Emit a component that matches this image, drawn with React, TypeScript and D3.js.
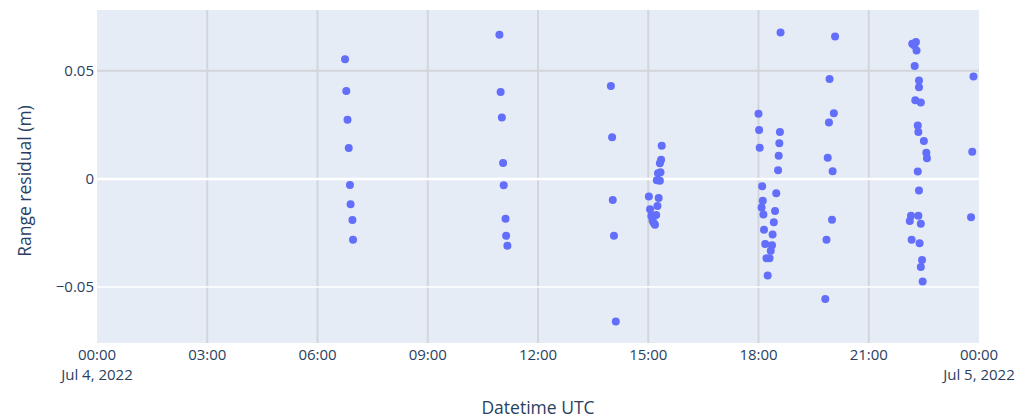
import React, { useEffect } from "react";
import * as d3 from "d3";

// residual samples per pass: [UTC time on Jul 4 2022, range residual in m]
const pass1: [string, number][] = [
  ["06:45", 0.0553], ["06:47", 0.0406], ["06:49", 0.0273], ["06:51", 0.0143],
  ["06:53", -0.0028], ["06:54", -0.0117], ["06:57", -0.019], ["06:58", -0.0281],
];
const pass2: [string, number][] = [
  ["10:57", 0.0667], ["10:59", 0.0402], ["11:01", 0.0284], ["11:03", 0.0074],
  ["11:04", -0.0029], ["11:07", -0.0184], ["11:08", -0.0263], ["11:10", -0.0309],
];
const pass3: [string, number][] = [
  ["13:59", 0.043], ["14:01", 0.0192], ["14:02", -0.0098], ["14:04", -0.0263], ["14:07", -0.0659],
];
const pass4: [string, number][] = [
  ["15:22", 0.0153], ["15:21", 0.0089], ["15:19", 0.0072], ["15:20", 0.0031],
  ["15:16", 0.0026], ["15:14", -0.0006], ["15:19", -0.0009], ["15:01", -0.0082],
  ["15:17", -0.0089], ["15:15", -0.0126], ["15:03", -0.0141], ["15:13", -0.0167],
  ["15:05", -0.0172], ["15:07", -0.0192], ["15:09", -0.0204], ["15:11", -0.0212],
];
const pass5: [string, number][] = [
  ["18:36", 0.0677], ["18:00", 0.0301], ["18:01", 0.0226], ["18:35", 0.0217],
  ["18:34", 0.0165], ["18:02", 0.0144], ["18:33", 0.0107], ["18:32", 0.004],
  ["18:06", -0.0034], ["18:29", -0.0066], ["18:07", -0.0101], ["18:05", -0.0132],
  ["18:08", -0.0165], ["18:27", -0.0149], ["18:25", -0.02], ["18:09", -0.0235],
  ["18:23", -0.0257], ["18:11", -0.0301], ["18:22", -0.0307], ["18:20", -0.0332],
  ["18:13", -0.0367], ["18:18", -0.0367], ["18:15", -0.0447],
];
const pass6: [string, number][] = [
  ["20:05", 0.0658], ["19:56", 0.0462], ["20:03", 0.0304], ["19:55", 0.0261],
  ["19:53", 0.0098], ["20:01", 0.0035], ["20:00", -0.0189], ["19:51", -0.0281], ["19:49", -0.0556],
];
const pass7: [string, number][] = [
  ["22:11", 0.0625], ["22:14", 0.0618], ["22:17", 0.0633], ["22:18", 0.0594],
  ["22:15", 0.0522], ["22:22", 0.0455], ["22:22", 0.0424], ["22:16", 0.0364],
  ["22:25", 0.0353], ["22:20", 0.0247], ["22:21", 0.0217], ["22:30", 0.0175],
  ["22:34", 0.0121], ["22:35", 0.0095], ["22:20", 0.0034], ["22:22", -0.0054],
  ["22:09", -0.0171], ["22:21", -0.0171], ["22:07", -0.0195], ["22:25", -0.0207],
  ["22:10", -0.0282], ["22:23", -0.0298], ["22:27", -0.0375], ["22:25", -0.0407], ["22:28", -0.0475],
];
const pass8: [string, number][] = [
  ["23:51", 0.0473], ["23:49", 0.0126], ["23:47", -0.0178],
];

const xTickHours = [0, 3, 6, 9, 12, 15, 18, 21, 24];
const xTickDates: Record<number, string> = { 0: "Jul 4, 2022", 24: "Jul 5, 2022" };
const yTicks = [-0.05, 0, 0.05];

const W = 1025;
const H = 419;
const margin = { top: 10, right: 46, bottom: 76, left: 97 };
const FONT = "'Open Sans', Verdana, Arial, sans-serif";
const TEXT = "#2a3f5f";
const GRID = "#d2d5da";

const day0 = new Date(Date.UTC(2022, 6, 4));
const toDate = (hhmm: string) => {
  const [h, m] = hhmm.split(":").map(Number);
  return new Date(day0.getTime() + (h * 60 + m) * 60000);
};

export default function App() {
  useEffect(() => {
    document.body.style.margin = "0";
  }, []);

  const points = [pass1, pass2, pass3, pass4, pass5, pass6, pass7, pass8]
    .flat()
    .map(([t, v]) => ({ t: toDate(t), v }));

  const x = d3
    .scaleUtc()
    .domain([day0, new Date(day0.getTime() + 24 * 3600000)])
    .range([margin.left, W - margin.right]);
  const y = d3
    .scaleLinear()
    .domain([-0.0759, 0.0781])
    .range([H - margin.bottom, margin.top]);

  const fmtY = (v: number) => (v === 0 ? "0" : (v < 0 ? "\u22120" : "0") + d3.format(".2f")(Math.abs(v)).slice(1));
  const fmtH = (h: number) => String(h % 24).padStart(2, "0") + ":00";

  return (
    <svg width={W} height={H} style={{ display: "block", fontFamily: FONT }}>
      <rect x={0} y={0} width={W} height={H} fill="#fff" />
      <rect
        x={margin.left}
        y={margin.top}
        width={W - margin.left - margin.right}
        height={H - margin.top - margin.bottom}
        fill="#E5ECF6"
      />
      {/* vertical grid */}
      {xTickHours.slice(1, -1).map((h) => {
        const px = x(new Date(day0.getTime() + h * 3600000));
        return (
          <line key={"gx" + h} x1={px} x2={px} y1={margin.top} y2={H - margin.bottom}
            stroke={GRID} strokeWidth={2} />
        );
      })}
      {/* horizontal grid */}
      {yTicks.map((v) => (
        <line key={"gy" + v} x1={margin.left} x2={W - margin.right} y1={y(v)} y2={y(v)}
          stroke={v > 0 ? GRID : "#ffffff"} strokeWidth={v === 0 ? 2.5 : v > 0 ? 2 : 1.5} />
      ))}
      {/* points */}
      {points.map((p, i) => (
        <circle key={i} cx={x(p.t)} cy={y(p.v)} r={4} fill="#636efa" />
      ))}
      {/* y tick labels */}
      {yTicks.map((v) => (
        <text key={"ty" + v} x={94} y={y(v)} dy="0.35em" textAnchor="end" fontSize={15} fill={TEXT}>
          {fmtY(v)}
        </text>
      ))}
      {/* x tick labels */}
      {xTickHours.map((h) => {
        const px = x(new Date(day0.getTime() + h * 3600000));
        return (
          <text key={"tx" + h} x={px} y={360} textAnchor="middle" fontSize={15} fill={TEXT}>
            <tspan x={px}>{fmtH(h)}</tspan>
            {xTickDates[h] && (
              <tspan x={px} dy={19.5}>{xTickDates[h]}</tspan>
            )}
          </text>
        );
      })}
      <text x={538} y={414} textAnchor="middle" fontSize={17.5} fill={TEXT}>
        Datetime UTC
      </text>
      <text transform="translate(31,181) rotate(-90)" textAnchor="middle" fontSize={17.5} fill={TEXT}>
        Range residual (m)
      </text>
    </svg>
  );
}
